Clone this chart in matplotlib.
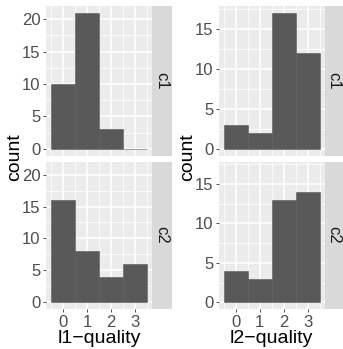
"""Faceted histograms of l1/l2 quality by condition, ggplot-style."""

import numpy as np
import matplotlib
matplotlib.use("Agg")
import matplotlib.pyplot as plt

plt.rcParams['font.family'] = ['Liberation Sans', 'DejaVu Sans']

quality_levels = [0, 1, 2, 3]
conditions = ["c1", "c2"]

l1_c1 = [10, 21, 3, 0]
l1_c2 = [16, 8, 4, 6]
l2_c1 = [3, 2, 17, 12]
l2_c2 = [4, 3, 13, 14]

columns = [
    ("l1\u2212quality", [l1_c1, l1_c2], [0, 5, 10, 15, 20]),
    ("l2\u2212quality", [l2_c1, l2_c2], [0, 5, 10, 15]),
]

W, H = 343, 349
PANEL_BG = "#EBEBEB"
STRIP_BG = "#D9D9D9"
BAR = "#595959"
TICK_TXT = "#4D4D4D"

fig = plt.figure(figsize=(W / 100, H / 100), dpi=100)


def px_axes(x0, y0, x1, y1):
    # pixel box (top-left origin) -> figure axes
    return fig.add_axes([x0 / W, 1 - y1 / H, (x1 - x0) / W, (y1 - y0) / H])


col_x = [(46, 152, 172), (218.7, 324.7, 343)]
row_y = [(6, 155.7), (161.5, 309)]

for ci, (title, series, yticks) in enumerate(columns):
    x0, x1, xs = col_x[ci]
    ymax = max(max(s) for s in series)
    ylim = (-0.05 * ymax, ymax * 1.05)
    for ri, vals in enumerate(series):
        y0, y1 = row_y[ri]
        ax = px_axes(x0, y0, x1, y1)
        ax.set_facecolor(PANEL_BG)
        for s in ax.spines.values():
            s.set_visible(False)
        ax.set_xlim(-0.7, 3.7)
        ax.set_ylim(*ylim)
        ax.set_xticks(quality_levels)
        ax.set_xticks(np.arange(-0.5, 4, 1), minor=True)
        ax.set_yticks(yticks)
        ax.set_yticks(np.arange(2.5, ylim[1], 5), minor=True)
        ax.grid(which='major', color='white', linewidth=1.1)
        ax.grid(which='minor', color='white', linewidth=0.55)
        ax.set_axisbelow(True)
        ax.bar(quality_levels, vals, width=1.0, color=BAR,
               edgecolor=BAR, linewidth=0.4)
        ax.tick_params(which='minor', length=0)
        ax.tick_params(which='major', length=2.5, width=0.6, color='#333333',
                       labelsize=12, labelcolor=TICK_TXT, pad=1.5)
        if ri == 0:
            ax.tick_params(axis='x', which='major', length=0, labelbottom=False)
        else:
            ax.set_xlabel(title, fontsize=14, labelpad=0)

        # facet strip on the right
        sax = px_axes(x1, y0, xs, y1)
        sax.set_facecolor(STRIP_BG)
        sax.set_xticks([])
        sax.set_yticks([])
        for s in sax.spines.values():
            s.set_visible(False)
        sax.text(0.5, 0.5, conditions[ri], rotation=-90, ha='center',
                 va='center', fontsize=12, color='#1A1A1A',
                 transform=sax.transAxes)

    fig.text((x0 - 31) / W, 1 - 157 / H, "count", rotation=90,
             ha='center', va='center', fontsize=14)

fig.savefig("out.png", dpi=100)
